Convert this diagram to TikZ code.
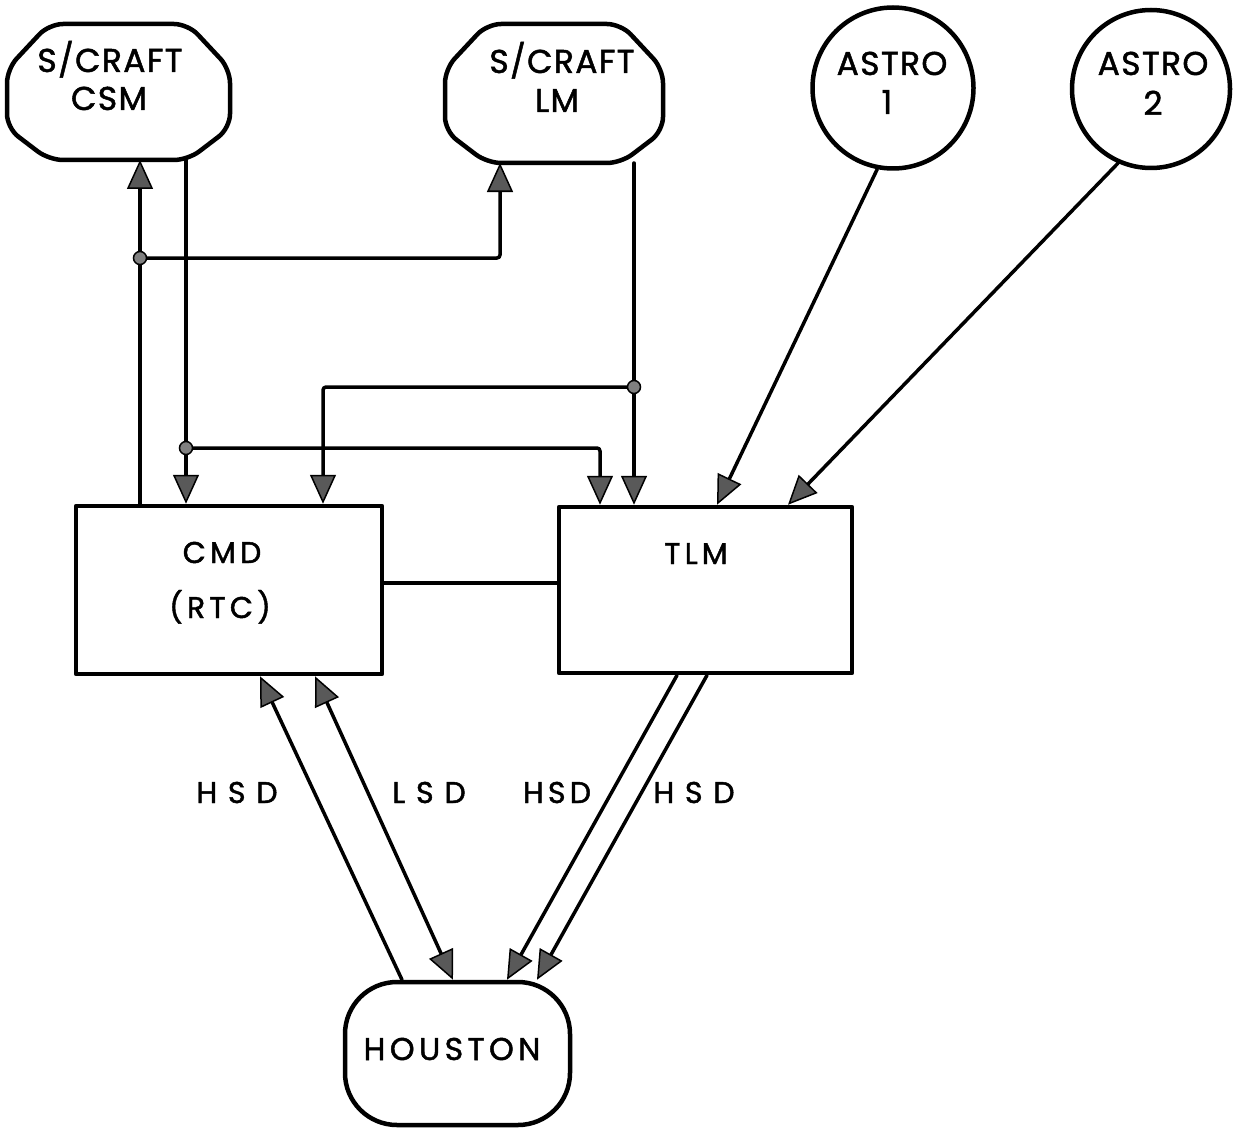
\documentclass[tikz,border=0pt]{standalone}
\usepackage{fontspec}
\newfontfamily\lettering[LetterSpace=14,FakeBold=1.5]{Poppins}
\newfontfamily\letteringbig[LetterSpace=4,FakeBold=1.5]{Poppins}
\newfontfamily\wideletter[LetterSpace=36,FakeBold=1.5]{Poppins}
\usetikzlibrary{arrows.meta,calc}
\begin{document}
\begin{tikzpicture}[x=1pt,y=-1pt,
  outline/.style={line width=4.5pt, line join=round},
  conn/.style={line width=3.5pt, line cap=round, line join=round, rounded corners=3pt},
  arrowend/.style={-{Triangle[length=29pt,width=26pt,fill=black!65,line width=1.5pt]}},
  arrowboth/.style={{Triangle[length=29pt,width=26pt,fill=black!65,line width=1.5pt]}-{Triangle[length=29pt,width=26pt,fill=black!65,line width=1.5pt]}},
  scnode/.style={rectangle, draw=none, inner sep=0pt, outer sep=0pt},
  boxnode/.style={rectangle, draw, outline, inner sep=0pt},
  astronode/.style={circle, draw, outline, inner sep=0pt, minimum size=161pt},
  jdot/.style={circle, draw, line width=1.5pt, fill=black!50, inner sep=0pt, minimum size=13pt},
  lbl/.style={anchor=base, inner sep=0pt, font=\lettering\fontsize{30}{32}\selectfont},
  lblwide/.style={anchor=base, inner sep=0pt, font=\wideletter\fontsize{30}{32}\selectfont},
  lblbig/.style={anchor=base, inner sep=0pt, font=\letteringbig\fontsize{33}{35}\selectfont}
]
\fill[white] (0,0) rectangle (1233,1134);
\useasboundingbox (0,0) rectangle (1233,1134);

% spacecraft boxes
\node[scnode, minimum width=223pt, minimum height=136pt] (csm) at (118.5,92) {};
\node[scnode, minimum width=218pt, minimum height=139pt] (lm) at (554,93.5) {};
\foreach \n in {csm,lm}{
  \draw[outline, rounded corners=14pt]
    ([xshift=42pt]\n.north west) -- ([xshift=-42pt]\n.north east)
    -- ([yshift=-45pt]\n.north east) -- ([yshift=32pt]\n.south east)
    -- ([xshift=-42pt]\n.south east) -- ([xshift=42pt]\n.south west)
    -- ([yshift=32pt]\n.south west) -- ([yshift=-45pt]\n.north west) -- cycle;
}
\node[lblbig] (csmA) at (110,72) {S/CRAFT};
\node[lblbig] (csmB) at (109,110) {CSM};
\node[lblbig] (lmA) at (562,73) {S/CRAFT};
\node[lblbig] (lmB) at (557,112) {LM};

% astronauts
\node[astronode] (astro1) at (893,88) {};
\node[astronode, minimum size=158pt] (astro2) at (1151,89) {};
\node[lblbig] (a1A) at (892,75) {ASTRO};
\node[lblbig] (a1B) at (887,114) {1};
\node[lblbig] (a2A) at (1153,75) {ASTRO};
\node[lblbig] (a2B) at (1153,115) {2};

% main boxes
\node[boxnode, minimum width=306pt, minimum height=168pt] (cmd) at (229,590) {};
\node[boxnode, minimum width=293pt, minimum height=166pt] (tlm) at (705.5,590) {};
\node[lbl] (cmdA) at (222,563) {CMD};
\node[lbl] (cmdB) at (220,618) {(RTC)};
\node[lbl] (tlmA) at (696,564) {TLM};

% Houston
\node[boxnode, rounded corners=52pt, minimum width=225pt, minimum height=143pt] (houston) at (457.5,1053.5) {};
\node[lbl, font=\lettering\fontsize{31.5}{33}\selectfont] (houA) at (452,1060) {HOUSTON};

% junction positions
\coordinate (p1) at (140,258);
\coordinate (p2) at (186,448);
\coordinate (p3) at (634,387);

% connectors
\draw[conn, arrowend] (cmd.north -| p1) -- (csm.south -| p1);
\draw[conn, arrowend] (p1) -| ([xshift=-54pt]lm.south);
\draw[conn, arrowend] (csm.south -| p2) -- (cmd.north -| p2);
\draw[conn, arrowend] (p2) -| ([xshift=-105.5pt]tlm.north);
\draw[conn, arrowend] (lm.south -| p3) -- (tlm.north -| p3);
\draw[conn, arrowend] (p3) -| ([xshift=94pt]cmd.north);
\draw[conn, arrowend] (astro1.-101) -- ([xshift=11.5pt]tlm.north);
\draw[conn, arrowend] (astro2.-114) -- ([xshift=82.5pt]tlm.north);
\draw[conn] ([yshift=7pt]cmd.east) -- ([yshift=7pt]tlm.west);
\draw[conn, arrowend] ([xshift=-55.5pt]houston.north) -- ([xshift=31pt]cmd.south);
\draw[conn, arrowboth] ([xshift=86pt]cmd.south) -- ([xshift=-4.5pt]houston.north);
\draw[conn, arrowend] ([xshift=-28.5pt]tlm.south) -- ([xshift=49.5pt]houston.north);
\draw[conn, arrowend] ([xshift=1.5pt]tlm.south) -- ([xshift=79.5pt]houston.north);

% junction dots
\node[jdot] (j1) at (p1) {};
\node[jdot] (j2) at (p2) {};
\node[jdot] (j3) at (p3) {};

% link labels
\node[lblwide] (l1) at (237,803) {HSD};
\node[lblwide] (l2) at (429,803) {LSD};
\node[lbl] (l3) at (557,803) {HSD};
\node[lblwide] (l4) at (694,803) {HSD};
\end{tikzpicture}
\end{document}
